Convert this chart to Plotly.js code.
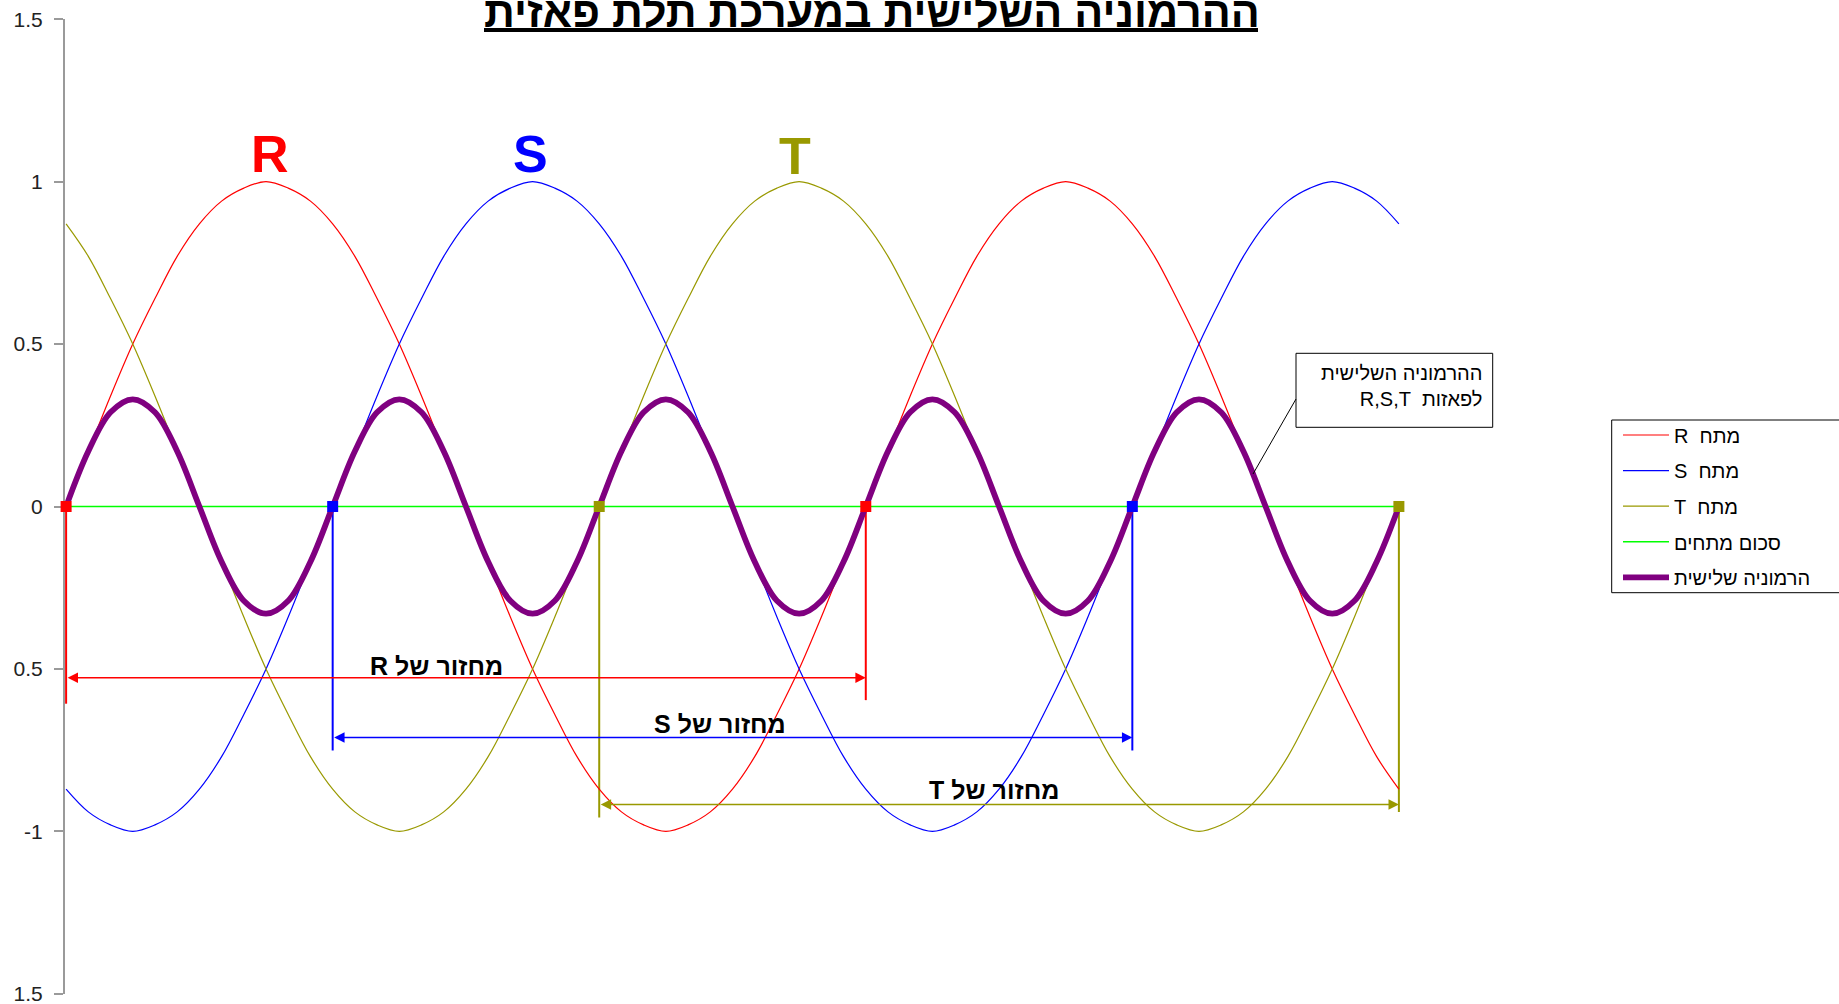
<!DOCTYPE html>
<html><head><meta charset="utf-8">
<script src="https://cdn.plot.ly/plotly-3.0.1.min.js"></script>
<style>html,body{margin:0;padding:0;background:#fff;overflow:hidden}</style>
</head><body><div id="chart" style="width:1839px;height:1004px"></div>
<script>
// ---- data (angle in degrees, voltages in p.u.) ----
const angleDeg = [0,10,20,30,40,50,60,70,80,90,100,110,120,130,140,150,160,170,180,190,200,210,220,230,240,250,260,270,280,290,300,310,320,330,340,350,360,370,380,390,400,410,420,430,440,450,460,470,480,490,500,510,520,530,540,550,560,570,580,590,600];
const voltR = [0,0.17,0.34,0.5,0.64,0.77,0.87,0.94,0.98,1,0.98,0.94,0.87,0.77,0.64,0.5,0.34,0.17,
  0,-0.17,-0.34,-0.5,-0.64,-0.77,-0.87,-0.94,-0.98,-1,-0.98,-0.94,-0.87,-0.77,-0.64,-0.5,-0.34,-0.17,
  0,0.17,0.34,0.5,0.64,0.77,0.87,0.94,0.98,1,0.98,0.94,0.87,0.77,0.64,0.5,0.34,0.17,
  0,-0.17,-0.34,-0.5,-0.64,-0.77,-0.87];
const voltS = [-0.87,-0.94,-0.98,-1,-0.98,-0.94,-0.87,-0.77,-0.64,-0.5,-0.34,-0.17,
  0,0.17,0.34,0.5,0.64,0.77,0.87,0.94,0.98,1,0.98,0.94,0.87,0.77,0.64,0.5,0.34,0.17,
  0,-0.17,-0.34,-0.5,-0.64,-0.77,-0.87,-0.94,-0.98,-1,-0.98,-0.94,-0.87,-0.77,-0.64,-0.5,-0.34,-0.17,
  0,0.17,0.34,0.5,0.64,0.77,0.87,0.94,0.98,1,0.98,0.94,0.87];
const voltT = [0.87,0.77,0.64,0.5,0.34,0.17,
  0,-0.17,-0.34,-0.5,-0.64,-0.77,-0.87,-0.94,-0.98,-1,-0.98,-0.94,-0.87,-0.77,-0.64,-0.5,-0.34,-0.17,
  0,0.17,0.34,0.5,0.64,0.77,0.87,0.94,0.98,1,0.98,0.94,0.87,0.77,0.64,0.5,0.34,0.17,
  0,-0.17,-0.34,-0.5,-0.64,-0.77,-0.87,-0.94,-0.98,-1,-0.98,-0.94,-0.87,-0.77,-0.64,-0.5,-0.34,-0.17,
  0];
const voltSum = [0,0,0,0,0,0,0,0,0,0,0,0,0,0,0,0,0,0,0,0,0,0,0,0,0,0,0,0,0,0,0,0,0,0,0,0,0,0,0,0,0,0,0,0,0,0,0,0,0,0,0,0,0,0,0,0,0,0,0,0,0];
const harmonic3 = [0,0.17,0.29,0.33,0.29,0.17,0,-0.17,-0.29,-0.33,-0.29,-0.17,
  0,0.17,0.29,0.33,0.29,0.17,0,-0.17,-0.29,-0.33,-0.29,-0.17,
  0,0.17,0.29,0.33,0.29,0.17,0,-0.17,-0.29,-0.33,-0.29,-0.17,
  0,0.17,0.29,0.33,0.29,0.17,0,-0.17,-0.29,-0.33,-0.29,-0.17,
  0,0.17,0.29,0.33,0.29,0.17,0,-0.17,-0.29,-0.33,-0.29,-0.17,
  0];

// cycle (period) markers
const cycleStart = [0,120,240];
const cycleEnd = [360,480,600];
const cycleArrowY = [-0.527,-0.711,-0.917];
const startDepth = [-0.607,-0.751,-0.957];
const endDepth = [-0.596,-0.751,-0.94];
const zeroCrossX = [0,120,240,360,480,600];
const zeroCrossY = [0,0,0,0,0,0];

// labels
const seriesNames = ['\u202Bמתח\u00A0 R\u202C','\u202Bמתח\u00A0 S\u202C','\u202Bמתח\u00A0 T\u202C','סכום מתחים','הרמוניה שלישית'];
const cycleLabels = ['\u202Bמחזור של R\u202C','\u202Bמחזור של S\u202C','\u202Bמחזור של T\u202C'];
const phaseLetters = ['R','S','T'];
const titleText = 'ההרמוניה השלישית במערכת תלת פאזית';
const calloutLines = ['ההרמוניה השלישית','\u202Bלפאזות\u00A0 R,S,T\u202C'];
const yTickVals = [1.5,1,0.5,0,-0.5,-1,-1.5];
const yTickText = ['1.5','1','0.5','0','0.5','-1','1.5'];

// ---- style / layout ----
const phaseColors = ['#FF0000','#0000FF','#999900'];
const markerColors = ['#FF0000','#0000FF','#999900','#FF0000','#0000FF','#999900'];
const FONT = 'Liberation Sans, Arial, sans-serif';
const L = 65, W = 1335, T = 19, H = 975;
const px = v => (v - L) / W;
const py = v => (T + H - v) / H;

const traces = [];
for (let i = 0; i < 3; i++) {
  traces.push({x:[cycleStart[i],cycleStart[i],null,cycleEnd[i],cycleEnd[i]],
    y:[0,startDepth[i],null,0,endDepth[i]], mode:'lines',
    line:{color:phaseColors[i], width:2}, showlegend:false, hoverinfo:'skip'});
}
const series = [voltR, voltS, voltT];
for (let i = 0; i < 3; i++) {
  traces.push({x:angleDeg, y:series[i], name:seriesNames[i], mode:'lines', legendgroup:'g'+i,
    line:{color:phaseColors[i], width:1.2, shape:'spline', smoothing:1}});
}
traces.push({x:angleDeg, y:voltSum, name:seriesNames[3], mode:'lines', legendgroup:'g3',
  line:{color:'#00FF00', width:1.6}});
traces.push({x:angleDeg, y:harmonic3, name:seriesNames[4], mode:'lines', legendgroup:'g4',
  line:{color:'#800080', width:5.8, shape:'spline', smoothing:1}});
traces.push({x:zeroCrossX, y:zeroCrossY, mode:'markers', showlegend:false, cliponaxis:false,
  marker:{symbol:'square', size:11, color:markerColors}, hoverinfo:'skip'});

const annotations = [];
// title
annotations.push({xref:'paper', yref:'paper', x:px(872), y:py(12), xanchor:'center', yanchor:'middle',
  text:'<b>'+titleText+'</b>', showarrow:false, font:{family:FONT, size:43, color:'#000'}});
// phase letters
const letterPx = [[269.7,153.6],[530.7,154.2],[795,156]];
for (let i = 0; i < 3; i++) {
  annotations.push({xref:'paper', yref:'paper', x:px(letterPx[i][0]), y:py(letterPx[i][1]),
    xanchor:'center', yanchor:'middle', text:'<b>'+phaseLetters[i]+'</b>', showarrow:false,
    font:{family:FONT, size:52, color:phaseColors[i]}});
}
// cycle arrows
for (let i = 0; i < 3; i++) {
  annotations.push({xref:'x', yref:'y', axref:'x', ayref:'y', x:cycleEnd[i], y:cycleArrowY[i],
    ax:cycleStart[i], ay:cycleArrowY[i], text:'', showarrow:true, arrowside:'end+start',
    arrowhead:2, startarrowhead:2, arrowsize:1.3, startarrowsize:1.3, arrowwidth:1.6,
    arrowcolor:phaseColors[i], standoff:0, startstandoff:0});
}
// cycle labels
const cycleLabelPx = [[436.9,665.6],[719.6,723.5],[994,789.7]];
for (let i = 0; i < 3; i++) {
  annotations.push({xref:'paper', yref:'paper', x:px(cycleLabelPx[i][0]), y:py(cycleLabelPx[i][1]),
    xanchor:'center', yanchor:'middle', text:'<b>'+cycleLabels[i]+'</b>', showarrow:false,
    font:{family:FONT, size:25, color:'#000'}});
}
// callout text
annotations.push({xref:'paper', yref:'paper', x:px(1484), y:py(386), xanchor:'right', yanchor:'middle',
  align:'right', text:calloutLines.join('<br>'), showarrow:false,
  font:{family:FONT, size:20, color:'#000'}});

const shapes = [
  {type:'line', xref:'paper', yref:'paper', x0:px(484), x1:px(1258), y0:py(30), y1:py(30),
    line:{color:'#000', width:4}},
  {type:'rect', xref:'paper', yref:'paper', x0:px(1296), x1:px(1492.7), y0:py(427.3), y1:py(353.3),
    line:{color:'#000', width:1}, fillcolor:'#fff', layer:'above'},
  {type:'line', xref:'paper', yref:'paper', x0:px(1296), y0:py(399), x1:px(1253), y1:py(474),
    line:{color:'#000', width:1}, layer:'above'},
  // legend frame (runs past the right edge as in the reference)
  {type:'rect', xref:'paper', yref:'paper', x0:px(1611.7), x1:px(1850), y0:py(592.7), y1:py(420),
    line:{color:'#000', width:1}, fillcolor:'#fff', layer:'above'}
];

const layout = {
  width:1839, height:1004,
  margin:{l:L, r:1839-L-W, t:T, b:1004-T-H, pad:0},
  paper_bgcolor:'#fff', plot_bgcolor:'#fff',
  xaxis:{range:[-0.5,600.5], visible:false, fixedrange:true},
  yaxis:{range:[-1.5005,1.5005], tickvals:yTickVals, ticktext:yTickText, showgrid:false, zeroline:false,
    showline:true, linecolor:'#9a9a9a', linewidth:2, ticks:'outside', ticklen:9, tickwidth:2,
    tickcolor:'#9a9a9a', tickfont:{family:FONT, size:21, color:'#222'}, ticklabelstandoff:7,
    ticklabeloverflow:'allow', layer:'below traces', fixedrange:true},
  showlegend:true,
  legend:{x:px(1618), xanchor:'left', y:py(415.5), yanchor:'top', borderwidth:0,
    bgcolor:'rgba(0,0,0,0)', font:{family:FONT, size:20, color:'#000'}, traceorder:'grouped', tracegroupgap:6.6,
    itemwidth:46},
  annotations:annotations, shapes:shapes
};
Plotly.newPlot('chart', traces, layout, {staticPlot:true, displayModeBar:false});
</script></body></html>
